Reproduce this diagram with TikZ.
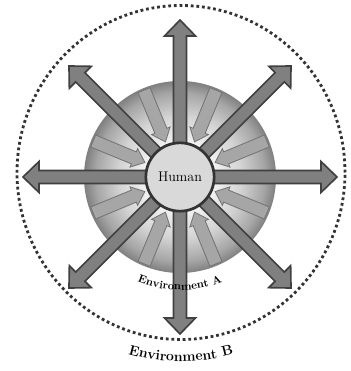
\documentclass[tikz,border=0pt]{standalone}
\usetikzlibrary{decorations.text}
\pgfdeclareradialshading{spheregrad}{\pgfpoint{0bp}{0bp}}{color(0bp)=(white); color(9bp)=(white!95!black); color(16bp)=(black!17); color(22bp)=(black!35); color(25bp)=(black!50); color(50bp)=(black!50)}
\tikzset{
  sphere/.style   = {circle, inner sep=0pt, minimum size=5.76cm, shading=spheregrad},
  human/.style    = {draw=black!80, line width=2.3pt, fill=black!15, circle,
                     inner sep=0pt, minimum size=2.05cm, font=\fontsize{12}{14}\selectfont},
  outarrow/.style = {draw=black!75, line width=1.4pt, fill=black!50, line join=miter},
  inarrow/.style  = {draw=black!55, line width=0.7pt, fill=black!35},
  envring/.style  = {draw=black!80, line width=2.4pt, dash pattern=on 2.4pt off 2.4pt},
}
\begin{document}
\begin{tikzpicture}[x=0.03cm,y=0.03cm]
\useasboundingbox (-180,-194) rectangle (170,177);
\draw[envring] (1,4.5) ellipse [x radius=164,y radius=167];
\node[sphere] (envA) at (0,0) {};
\foreach \a in {22.5,67.5,...,337.5}
  \draw[inarrow,rotate=\a] (94,-6.5) -- (50,-6.5) -- (50,-10) -- (38,0)
    -- (50,10) -- (50,6.5) -- (94,6.5) -- cycle;
\foreach \a in {0,45,...,315}
  \draw[outarrow,rotate=\a] (30,-6.5) -- (141,-6.5) -- (141,-15.5) -- (157,0)
    -- (141,15.5) -- (141,6.5) -- (30,6.5) -- cycle;
\node[human] (hum) at (0,0) {Human};
\path[decorate,decoration={text along path,text align=center,
  text={|\fontsize{9.5}{11}\selectfont\bfseries|Environment A}}]
  (250:113) arc[start angle=250,end angle=290,radius=113];
\path[decorate,decoration={text along path,text align=center,
  text={|\fontsize{12}{14}\selectfont\bfseries|Environment B}},shift={(1,4.5)}]
  (240:189) arc[start angle=240,end angle=300,radius=189];
\end{tikzpicture}
\end{document}
